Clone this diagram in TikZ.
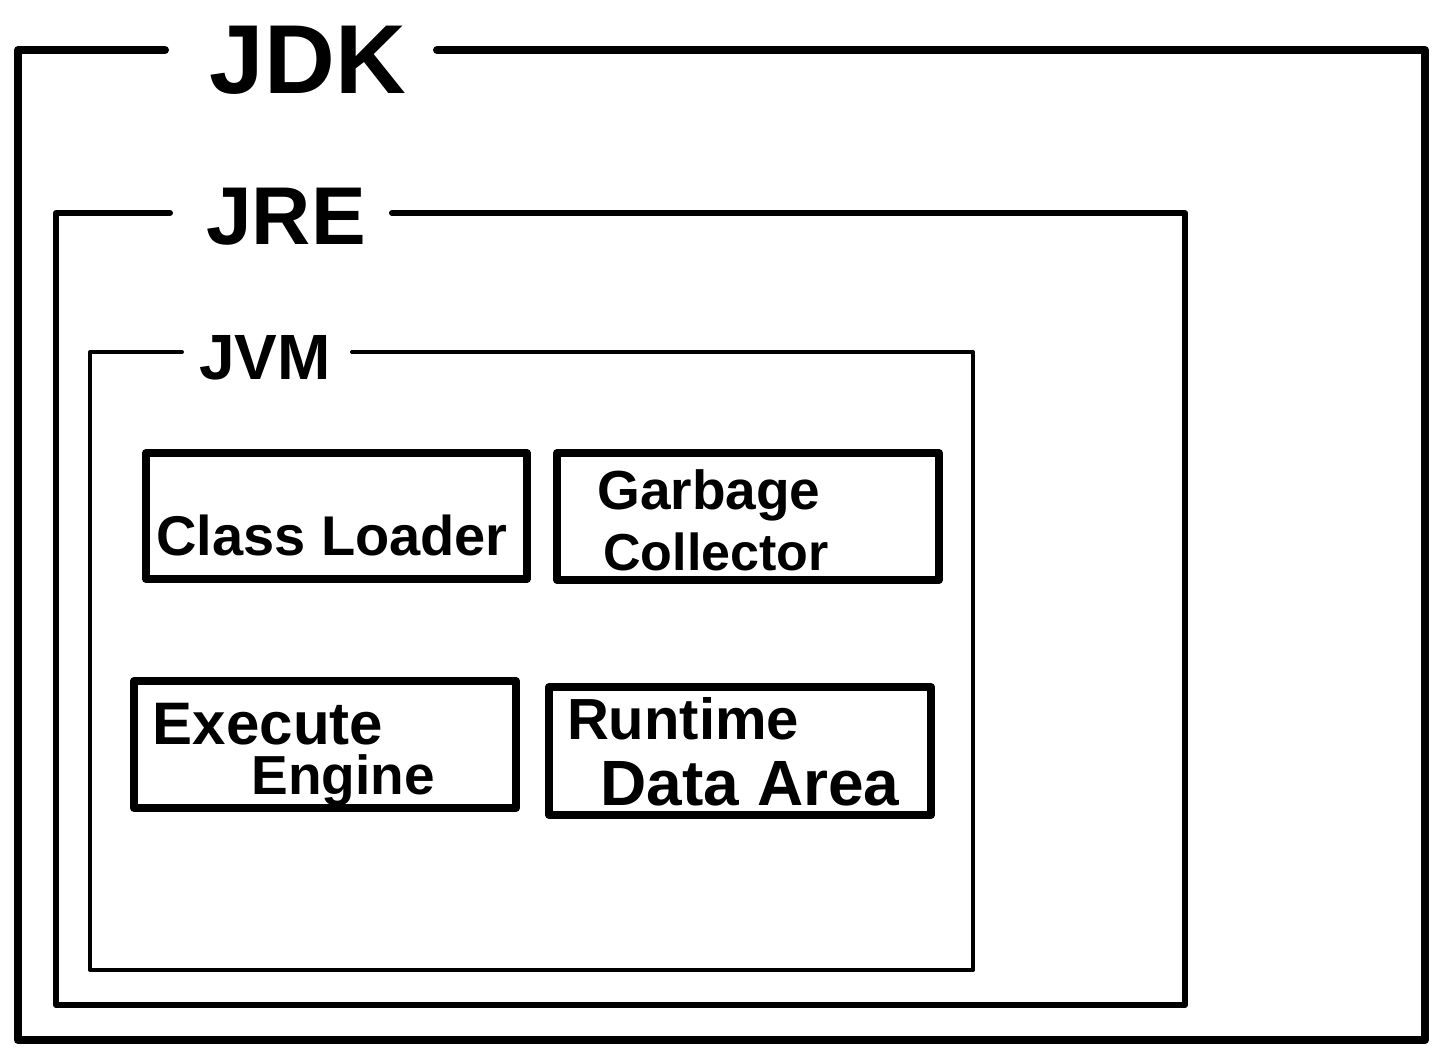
\documentclass[tikz,border=0pt]{standalone}
\usepackage{fontspec}
\setmainfont{Liberation Sans}
\begin{document}
\begin{tikzpicture}[x=0.5pt,y=-0.5pt,
  frame/.style={draw=black,line join=round,line cap=round},
  boxlbl/.style={font=\bfseries\fontsize{#1}{#1}\selectfont,inner sep=0pt},
  boxlbl/.default=28,
  title/.style={font=\bfseries\fontsize{#1}{#1}\selectfont,inner sep=0pt}]
\useasboundingbox (0,0) rectangle (1440,1062);
% JDK frame
\draw[frame,line width=4pt] (437,50) -- (1425,50) -- (1425,1040) -- (18,1040) -- (18,50) -- (165,50);
\node[title=49] (jdk) at (308,60) {JDK};
% JRE frame
\draw[frame,line width=3pt] (392,213) -- (1185,213) -- (1185,1005) -- (56,1005) -- (56,213) -- (170,213);
\node[title=41] (jre) at (286,217) {JRE};
% JVM frame
\draw[frame,line width=2pt] (352,352) -- (973,352) -- (973,970) -- (90,970) -- (90,352) -- (182,352);
\node[title=32] (jvm) at (265,358) {JVM};
% inner boxes
\draw[frame,line width=4pt] (146,453) rectangle (527,579);
\node[boxlbl=28] (cl) at (332,535) {Class Loader};
\draw[frame,line width=4pt] (557,453) rectangle (939,580);
\node[boxlbl=27.5] (gc1) at (709,495) {Garbage};
\node[boxlbl=26] (gc2) at (716,552) {Collector};
\draw[frame,line width=4pt] (134,681) rectangle (516,808);
\node[boxlbl=30] (ee1) at (268,724) {Execute};
\node[boxlbl=27.5] (ee2) at (343,780) {Engine};
\draw[frame,line width=4pt] (549,687) rectangle (931,815);
\node[boxlbl=29] (rd1) at (683,719) {Runtime};
\node[boxlbl=32] (rd2) at (750,784) {Data Area};
\end{tikzpicture}
\end{document}
